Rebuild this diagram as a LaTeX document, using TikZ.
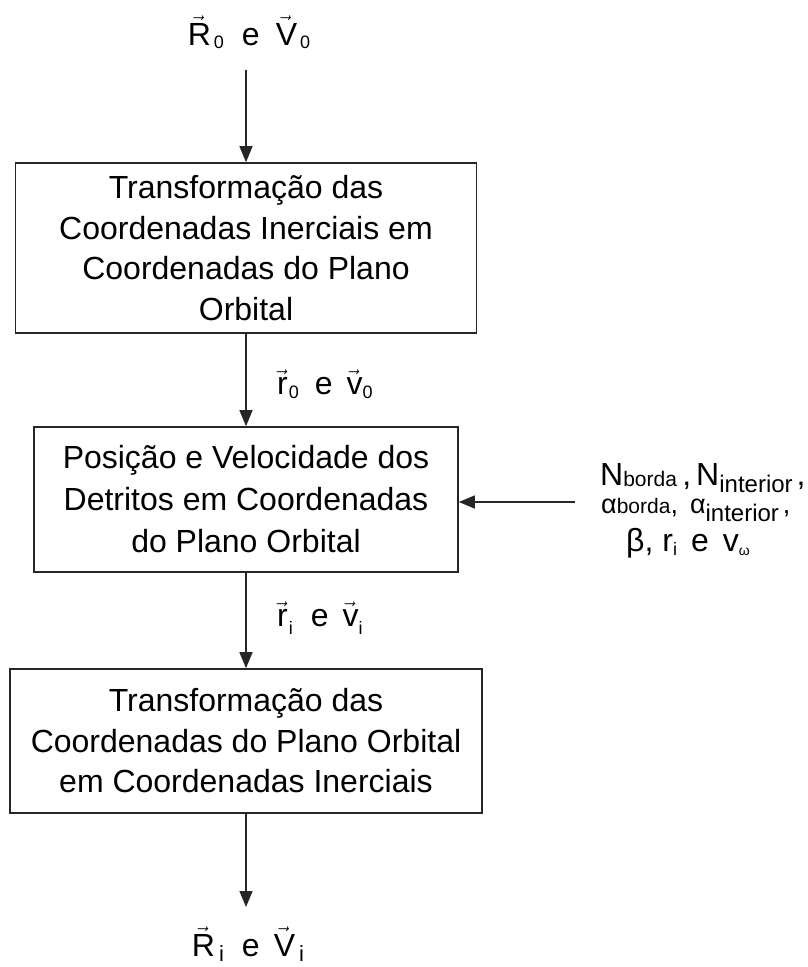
\documentclass[tikz,border=0pt]{standalone}
\usepackage{fontspec}
\setmainfont{Liberation Sans}
\usetikzlibrary{arrows.meta}
\newcommand{\lsub}[3]{\raisebox{#2}{\fontsize{#1}{#1}\selectfont #3}}
\newcommand{\vecl}[1]{\ensuremath{\vec{\hbox{#1\kern-5pt}}}\kern5pt}
\begin{document}
\begin{tikzpicture}[x=1pt,y=-1pt,
  procbox/.style={draw=black!85, line width=1.6pt, inner sep=0pt, align=center,
    font=\fontsize{32}{40.5}\selectfont},
  lab/.style={inner sep=0pt, font=\fontsize{32}{36}\selectfont},
  arr/.style={draw=black!85, line width=1.4pt, -{Triangle[length=16pt,width=13pt]}}]
\useasboundingbox (0,0) rectangle (808,967);

% top label
\node[lab, anchor=base] (t0) at (249,45)
  {\vecl{R}\hspace{3pt}\lsub{18}{-3pt}{0}\hspace{18pt}e\hspace{16pt}\vecl{V}\hspace{3pt}\lsub{18}{-3pt}{0}};

% boxes
\node[procbox, minimum width=461pt, minimum height=170pt] (b1) at (246,248)
  {Transformação das\\Coordenadas Inerciais em\\Coordenadas do Plano\\Orbital};
\node[procbox, minimum width=424pt, minimum height=145pt, font=\fontsize{32}{42}\selectfont] (b2) at (246,499.5)
  {Posição e Velocidade dos\\Detritos em Coordenadas\\do Plano Orbital};
\node[procbox, minimum width=472pt, minimum height=144pt] (b3) at (246,741)
  {Transformação das\\Coordenadas do Plano Orbital\\em Coordenadas Inerciais};

% arrow labels
\node[lab, anchor=base west] (l1) at (277,394)
  {\vecl{r}\hspace{1pt}\lsub{18}{-4pt}{0}\hspace{16pt}e\hspace{14pt}\vecl{v}\lsub{18}{-4pt}{0}};
\node[lab, anchor=base west] (l2) at (277,626)
  {\vecl{r}\hspace{1pt}\lsub{18}{-8pt}{i}\hspace{18pt}e\hspace{14pt}\vecl{v}\lsub{18}{-8pt}{i}};

% bottom label
\node[lab, anchor=base] (tb) at (248,956)
  {\vecl{R}\hspace{4pt}\lsub{22}{-5pt}{i}\hspace{18pt}e\hspace{14pt}\vecl{V}\hspace{4pt}\lsub{22}{-5pt}{i}};

% right-side parameters
\node[lab, anchor=base west] (p1) at (600,485)
  {N\lsub{21}{-1pt}{borda}\,,\hspace{5pt}N\lsub{24}{-7pt}{interior}\hspace{4pt},};
\node[lab, anchor=base west] (p2) at (601,513)
  {\fontsize{27}{30}\selectfont α\lsub{21}{0pt}{borda},\hspace{12pt}α\lsub{24}{-8pt}{interior}\hspace{4pt},};
\node[lab, anchor=base] (p3) at (688,551)
  {β, r\lsub{18}{-4pt}{i}\hspace{14pt}e\hspace{14pt}v\lsub{14}{-4pt}{ω}};

% free ends of connectors
\coordinate (in0) at (246,70);
\coordinate (outi) at (246,907);
\coordinate (pin) at (575,502);

% connectors
\draw[arr] (in0) -- (b1.north);
\draw[arr] (b1.south) -- (b2.north);
\draw[arr] (b2.south) -- (b3.north);
\draw[arr] (b3.south) -- (outi);
\draw[arr] (pin) -- (pin -| b2.east);
\end{tikzpicture}
\end{document}
